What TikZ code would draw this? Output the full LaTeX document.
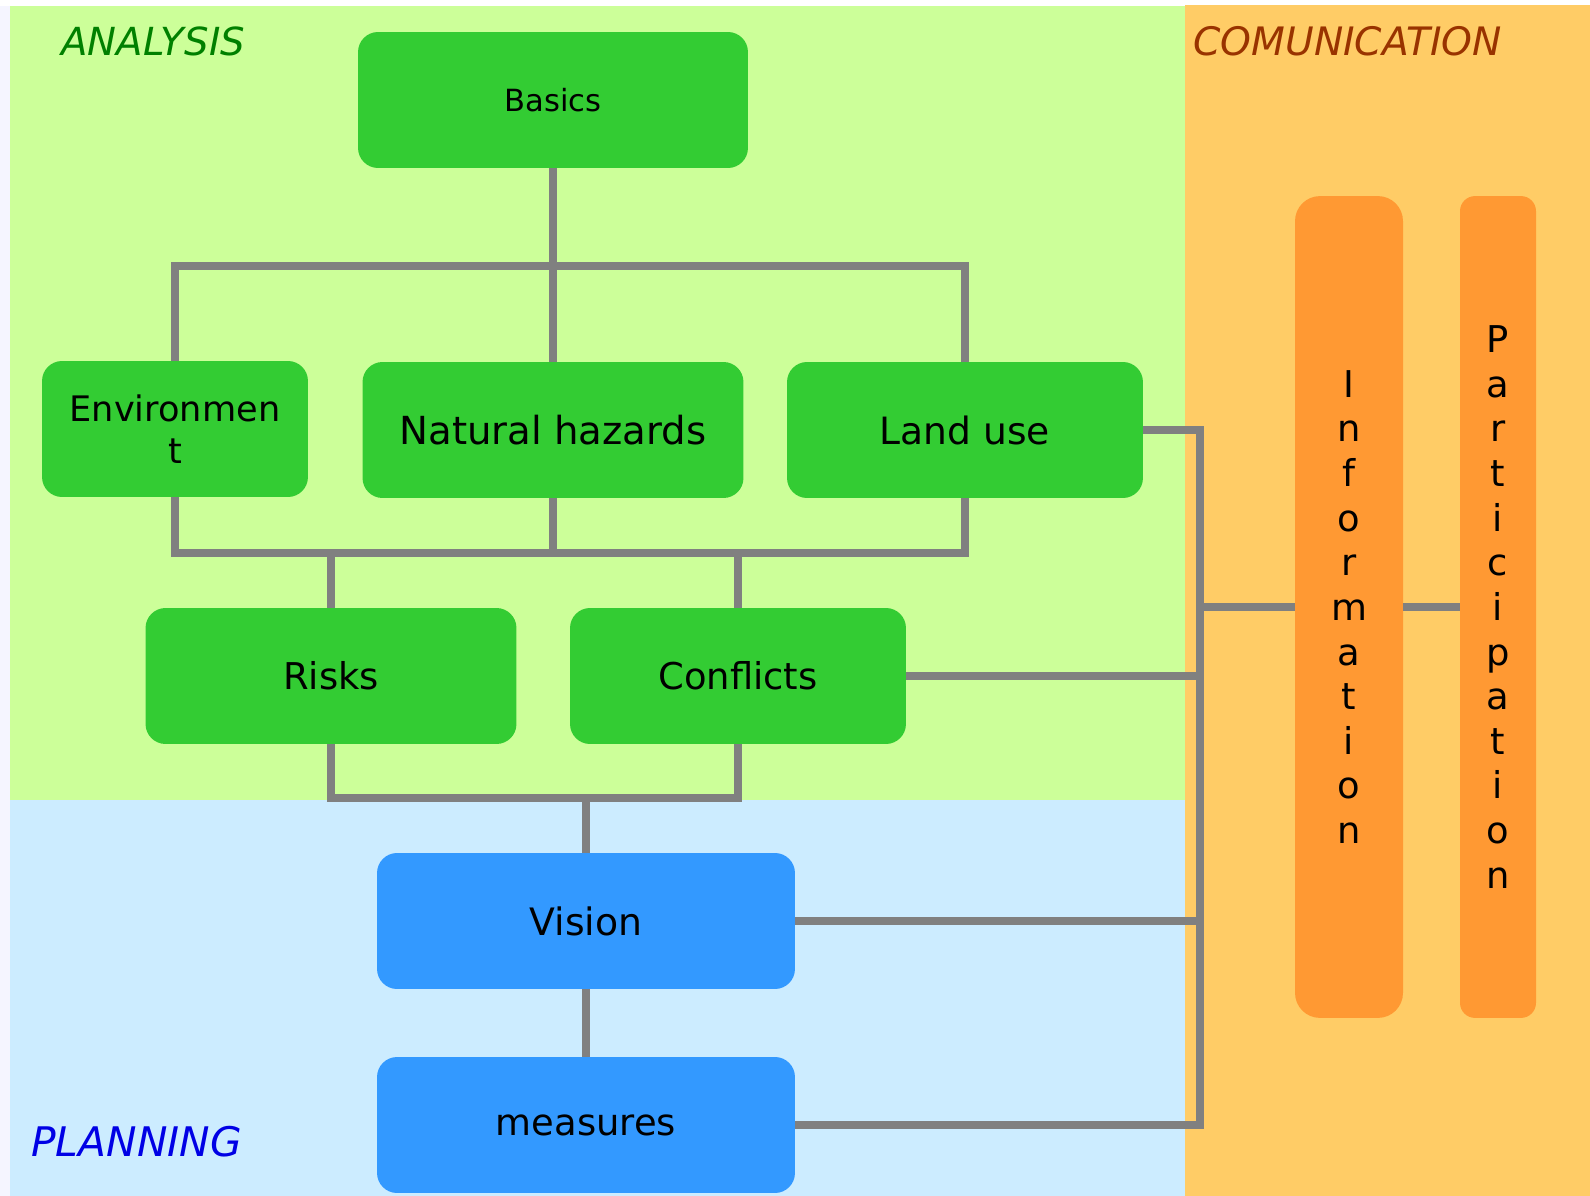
\documentclass[tikz,border=0pt]{standalone}
\usepackage{fontspec}
\setmainfont{DejaVu Sans}
\definecolor{anabg}{HTML}{CCFF99}
\definecolor{planbg}{HTML}{CCECFF}
\definecolor{combg}{HTML}{FFCC66}
\definecolor{anabox}{HTML}{33CC33}
\definecolor{planbox}{HTML}{3399FF}
\definecolor{combox}{HTML}{FF9933}
\definecolor{wiregray}{HTML}{808080}
\definecolor{comtext}{HTML}{993300}
\begin{document}
\begin{tikzpicture}[x=0.02cm, y=-0.02cm,
  box/.style={rectangle, rounded corners=0.4cm, inner sep=0pt, minimum height=2.72cm,
    align=center, font=\fontsize{21}{25}\selectfont},
  greenbox/.style={box, fill=anabox},
  bluebox/.style={box, fill=planbox},
  bar/.style={rectangle, fill=combox, inner sep=0pt, minimum height=16.44cm,
    align=center, font=\fontsize{21}{25.4}\selectfont},
  wire/.style={draw=wiregray, line width=4pt},
  area/.style={font=\itshape, anchor=west, inner sep=0pt}]
  \useasboundingbox (0,0) rectangle (1590,1196);
  \fill[white] (0,0) rectangle (1590,1196);
  \fill[blue!4] (0,6) rectangle (10,1196);
  \fill[anabg] (10,6) rectangle (1185,800);
  \fill[planbg] (10,800) rectangle (1185,1196);
  \fill[combg] (1185,5) rectangle (1590,1196);

  \node[area, text=green!50!black, font=\fontsize{22}{25}\itshape] (analysis) at (61,41) {ANALYSIS};
  \node[area, text=comtext, font=\fontsize{22.3}{25}\itshape] (comm) at (1193,41) {COMUNICATION};
  \node[area, text=blue!90!black, font=\fontsize{23.2}{25}\itshape] (planning) at (31,1142) {PLANNING};

  \node[greenbox, minimum width=7.8cm, font=\fontsize{17.4}{20}\selectfont] (basics) at (553,100) {Basics};
  \node[greenbox, minimum width=5.32cm, font=\fontsize{20}{23.6}\selectfont] (env) at (175,429) {Environmen\\t};
  \node[greenbox, minimum width=7.62cm, font=\fontsize{22}{25}\selectfont] (haz) at (553,430) {Natural hazards};
  \node[greenbox, minimum width=7.12cm, font=\fontsize{21.4}{25}\selectfont] (land) at (965,430) {Land use};
  \node[greenbox, minimum width=7.42cm] (risks) at (331,676) {Risks};
  \node[greenbox, minimum width=6.72cm] (confl) at (738,676) {Conflicts};
  \node[bluebox, minimum width=8.36cm, font=\fontsize{21.5}{25}\selectfont] (vision) at (586,921) {Vision};
  \node[bluebox, minimum width=8.36cm] (measures) at (586,1125) {measures};
  \node[bar, minimum width=2.16cm, rounded corners=0.5cm] (info) at (1349,607)
    {I\\n\\f\\o\\r\\m\\a\\t\\i\\o\\n};
  \node[bar, minimum width=1.52cm, rounded corners=0.3cm] (part) at (1498,607)
    {P\\a\\r\\t\\i\\c\\i\\p\\a\\t\\i\\o\\n};

  \coordinate (top) at (553,266);
  \coordinate (mid) at (553,553);
  \coordinate (low) at (586,798);
  \coordinate (bus) at (1200,1125);

  \draw[wire] (basics.south) -- (haz.north);
  \draw[wire] (env.north) |- (top) -| (land.north);
  \draw[wire] (haz.south) -- (mid);
  \draw[wire] (env.south) |- (mid) -| (land.south);
  \draw[wire] (risks.north) -- (risks.north |- mid);
  \draw[wire] (confl.north) -- (confl.north |- mid);
  \draw[wire] (risks.south) |- (low) -| (confl.south);
  \draw[wire] (low) -- (vision.north);
  \draw[wire] (vision.south) -- (measures.north);
  \draw[wire] (land.east) -| (bus) -- (measures.east);
  \draw[wire] (confl.east) -- (confl.east -| bus);
  \draw[wire] (vision.east) -- (vision.east -| bus);
  \draw[wire] (info.west -| bus) -- (info.west);
  \draw[wire] (info.east) -- (part.west);
\end{tikzpicture}
\end{document}
